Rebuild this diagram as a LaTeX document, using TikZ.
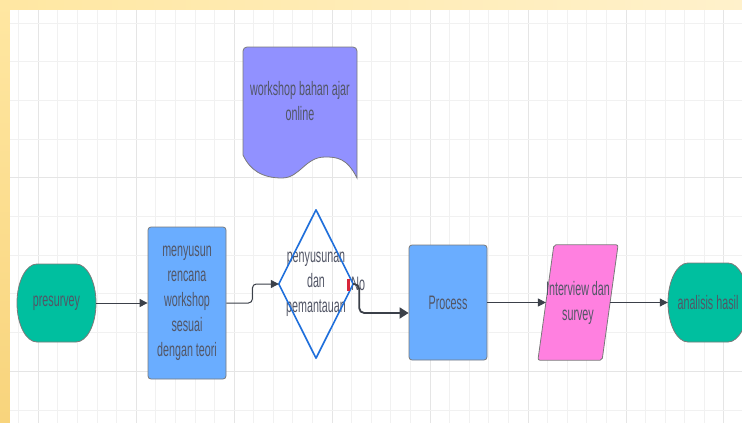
\documentclass[tikz,border=0pt]{standalone}
\usepackage{fontspec}
\setmainfont{Liberation Sans}[FakeStretch = 0.55]
\usetikzlibrary{positioning, arrows.meta, backgrounds}

\definecolor{boxblue}{HTML}{6AADFF}
\definecolor{termgreen}{HTML}{00BF9F}
\definecolor{docpurple}{HTML}{9191FF}
\definecolor{iopink}{HTML}{FF80E0}
\definecolor{decblue}{HTML}{1F6FDB}
\definecolor{labelgray}{HTML}{525666}
\definecolor{edgegray}{HTML}{7A7A7A}
\definecolor{linkgray}{HTML}{3B4049}
\definecolor{markred}{HTML}{D8263A}
\definecolor{gridminor}{HTML}{F1F1F1}
\definecolor{gridmajor}{HTML}{E5E5E5}
\definecolor{frametop}{HTML}{FFE7A2}
\definecolor{frameright}{HTML}{FFF1CB}
\definecolor{framebottom}{HTML}{F8D47C}

\tikzset{
  flowtext/.style = {
    text = labelgray,
    font = \fontsize{19.5pt}{25pt}\selectfont,
    align = center,
    inner sep = 0pt,
  },
  shapeline/.style = {draw = edgegray, line width = .8pt},
  boxnode/.style = {
    flowtext,
    shapeline,
    fill = boxblue,
    rounded corners = 3pt,
  },
  link/.style = {draw = linkgray, line width = 1pt, -{Triangle[length = 8pt, width = 8pt]}},
  heavylink/.style = {draw = linkgray, line width = 1.8pt, -{Triangle[length = 9pt, width = 11pt]}},
}

\begin{document}
\begin{tikzpicture} [
  x = 1pt,
  y = -1pt,
]
\useasboundingbox (0, 0) rectangle (742, 423);

\begin{scope} [on background layer]
\shade [top color = frametop, bottom color = framebottom] (0, 0) rectangle (10, 423);
\shade [left color = frametop, right color = frameright] (0, 0) rectangle (742, 10);
\fill [white] (10, 10) rectangle (742, 423);
% grid
\foreach \k in {-1, ..., 36}
  \draw [gridminor, line width = 1pt] (38.3 + 19.59 * \k, 10) -- (38.3 + 19.59 * \k, 423);
\foreach \k in {0, 5, ..., 35}
  \draw [gridmajor, line width = 1pt] (38.3 + 19.59 * \k, 10) -- (38.3 + 19.59 * \k, 423);
\foreach \j in {0, ..., 10}
  \draw [gridminor, line width = 1pt] (10, 23.3 + 38.67 * \j) -- (742, 23.3 + 38.67 * \j);
\foreach \j in {4, 9}
  \draw [gridmajor, line width = 1pt] (10, 23.3 + 38.67 * \j) -- (742, 23.3 + 38.67 * \j);
\end{scope}

\node [flowtext, minimum width = 79pt, minimum height = 78pt] (presurvey) at (56.5, 303) {presurvey};
\node [boxnode, minimum width = 78pt, minimum height = 152pt] (rencana) at (187, 303)
  {menyusun\\rencana\\workshop\\sesuai\\dengan teori};
\node [flowtext] (workshop) at (300, 101) {workshop bahan ajar\\online};
\node [flowtext, minimum width = 74pt, minimum height = 148pt] (check) at (316, 284)
  {penyusunan\\dan\\pemantauan};
\node [flowtext, right = -2pt of check.east] (nolabel) {No};
\node [boxnode, minimum width = 78pt, minimum height = 115pt] (process) at (448, 302.5) {Process};
\node [flowtext, minimum width = 62.5pt, minimum height = 115pt] (interview) at (578, 302.5)
  {Interview dan\\survey};
\node [flowtext, minimum width = 80pt, minimum height = 79pt] (analisis) at (708, 302.5) {analisis hasil};

\begin{scope} [on background layer]
\filldraw [shapeline, fill = termgreen] (37, 264) -- (76, 264)
  .. controls (87, 264) and (96, 281.5) .. (96, 303)
  .. controls (96, 324.5) and (87, 342) .. (76, 342) -- (37, 342)
  .. controls (26, 342) and (17, 324.5) .. (17, 303)
  .. controls (17, 281.5) and (26, 264) .. (37, 264) -- cycle;
\filldraw [shapeline, fill = termgreen] (688, 263) -- (728, 263)
  .. controls (739, 263) and (748, 280.9) .. (748, 302.5)
  .. controls (748, 324.3) and (739, 342) .. (728, 342) -- (688, 342)
  .. controls (677, 342) and (668, 324.3) .. (668, 302.5)
  .. controls (668, 280.9) and (677, 263) .. (688, 263) -- cycle;
\filldraw [shapeline, fill = docpurple] (243, 155)
  {[rounded corners = 4pt] -- (243, 47) -- (357, 47)} -- (357, 178)
  .. controls (347, 158) and (337, 157) .. (325, 157)
  .. controls (305, 157) and (300, 178) .. (282, 178)
  .. controls (262, 178) and (250, 170) .. (243, 155) -- cycle;
\filldraw [shapeline, fill = iopink, rounded corners = 2pt]
  ([xshift = 8pt] interview.north west) -- ([xshift = 8pt] interview.north east)
  -- ([xshift = -8pt] interview.south east) -- ([xshift = -8pt] interview.south west) -- cycle;
\end{scope}

\draw [decblue, line width = 1.6pt, line join = round]
  (check.north) -- (check.east) -- (check.south) -- (check.west) -- cycle;
\fill [markred] (347, 279) rectangle (349.5, 291);

\draw [link] (presurvey.east) -- (rencana.west);
\draw [link, rounded corners = 4pt] (rencana.east) -- ++(26, 0) |- (check.west);
\draw [heavylink, rounded corners = 5pt] (check.east) -- ++(6, 0) |- ([yshift = -10.5pt] process.west);
\draw [link] (process.east) -- (interview.west);
\draw [link] (interview.east) -- (analisis.west);
\end{tikzpicture}
\end{document}
